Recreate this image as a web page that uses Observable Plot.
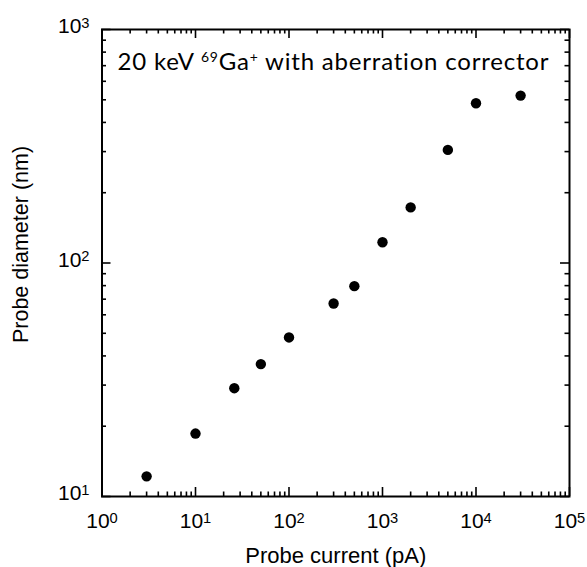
<!DOCTYPE html>
<html><head><meta charset="utf-8">
<script src="https://cdn.jsdelivr.net/npm/d3@7"></script>
<script src="https://cdn.jsdelivr.net/npm/@observablehq/plot@0.6"></script>
<style>body{margin:0;background:#fff}</style>
</head><body><div id="chart"></div>
<script>
// Data
const current = [3, 10, 26, 50, 100, 300, 500, 1000, 2000, 5000, 10000, 30000]; // pA
const diameter = [12.2, 18.6, 29.1, 36.9, 48, 67.1, 79.6, 122.7, 173, 305, 483, 521]; // nm

const xMajor = [1, 10, 100, 1000, 10000, 100000];
const yMajor = [10, 100, 1000];
const xTickLabels = ["10^{0}", "10^{1}", "10^{2}", "10^{3}", "10^{4}", "10^{5}"];
const yTickLabels = ["10^{1}", "10^{2}", "10^{3}"];
const xLabel = "Probe current (pA)";
const yLabel = "Probe diameter (nm)";
const title = "20 keV ^{69}Ga^{+} with aberration corrector";

const minorOf = majors => majors.slice(0, -1).flatMap(m => [2,3,4,5,6,7,8,9].map(k => m * k));
const xMinor = minorOf(xMajor);
const yMinor = minorOf(yMajor);

const W = 587, Hh = 567;
const mL = 101.5, mR = 18, mT = 29, mB = 71;
const fw = W - mL - mR, fh = Hh - mT - mB;
const font = "'Liberation Sans', Arial, Helvetica, sans-serif";
const tw = 1.6, maj = 9, mnr = 4.5;

const svg = Plot.plot({
  width: W, height: Hh,
  marginLeft: mL, marginRight: mR, marginTop: mT, marginBottom: mB,
  style: {fontFamily: font, background: "#fff", color: "#000"},
  x: {type: "log", domain: [1, 1e5], label: null},
  y: {type: "log", domain: [10, 1000], label: null},
  marks: [
    // inward ticks, all four sides
    Plot.tickX(xMajor, {x: d => d, insetTop: fh - maj, stroke: "#000", strokeWidth: tw}),
    Plot.tickX(xMajor, {x: d => d, insetBottom: fh - maj, stroke: "#000", strokeWidth: tw}),
    Plot.tickX(xMinor, {x: d => d, insetTop: fh - mnr, stroke: "#000", strokeWidth: tw}),
    Plot.tickX(xMinor, {x: d => d, insetBottom: fh - mnr, stroke: "#000", strokeWidth: tw}),
    Plot.tickY(yMajor, {y: d => d, insetRight: fw - maj, stroke: "#000", strokeWidth: tw}),
    Plot.tickY(yMajor, {y: d => d, insetLeft: fw - maj, stroke: "#000", strokeWidth: tw}),
    Plot.tickY(yMinor, {y: d => d, insetRight: fw - mnr, stroke: "#000", strokeWidth: tw}),
    Plot.tickY(yMinor, {y: d => d, insetLeft: fw - mnr, stroke: "#000", strokeWidth: tw}),
    Plot.axisX(xMajor, {tickSize: 0, tickPadding: 17, fontSize: 21, label: null, fontFamily: font,
      tickFormat: d => xTickLabels[xMajor.indexOf(d)]}),
    Plot.axisY(yMajor, {tickSize: 0, tickPadding: 12.5, fontSize: 21, dy: -3, label: null, fontFamily: font,
      tickFormat: d => yTickLabels[yMajor.indexOf(d)]}),
    Plot.frame({stroke: "#000", strokeWidth: 2}),
    Plot.dot(current, {x: current, y: diameter, r: 5.2, fill: "#000", stroke: null}),
    Plot.text([title], {text: d => d, frameAnchor: "top-left", textAnchor: "start", lineAnchor: "top",
      dx: 15.5, dy: 23.5, fontSize: 24, fontFamily: "Lato, 'Open Sans', sans-serif"}),
    Plot.text([xLabel], {text: d => d, frameAnchor: "bottom", textAnchor: "middle", lineAnchor: "top",
      dy: 50.7, fontSize: 22, fontFamily: font}),
    Plot.text([yLabel], {text: d => d, frameAnchor: "left", textAnchor: "middle", lineAnchor: "middle",
      rotate: -90, dx: -81, dy: -18.5, fontSize: 21.5, fontFamily: font})
  ]
});

// turn ^{...} markup into real superscript tspans
function supify(el, ratio, shiftEm) {
  const s = el.textContent;
  if (!s.includes("^{")) return;
  const fs = parseFloat(getComputedStyle(el).fontSize) || 20;
  el.textContent = "";
  const parts = s.split(/(\^\{[^}]*\})/).filter(p => p);
  let pending = 0;
  for (const p of parts) {
    const m = p.match(/^\^\{(.*)\}$/);
    const t = document.createElementNS("http://www.w3.org/2000/svg", "tspan");
    if (m) {
      const sh = fs * shiftEm;
      t.textContent = m[1];
      t.setAttribute("font-size", fs * ratio);
      t.setAttribute("dy", -sh + pending);
      pending = sh;
    } else {
      t.textContent = p;
      if (pending) t.setAttribute("dy", pending);
      pending = 0;
    }
    el.appendChild(t);
  }
}
document.getElementById("chart").appendChild(svg);
svg.querySelectorAll("text").forEach(el => {
  const isTitle = el.textContent.startsWith("20 keV");
  if (isTitle) {
    el.setAttribute("letter-spacing", "0.8");
    supify(el, 0.58, 0.33);
  } else supify(el, 0.7, 0.27);
});
</script>
</body></html>
